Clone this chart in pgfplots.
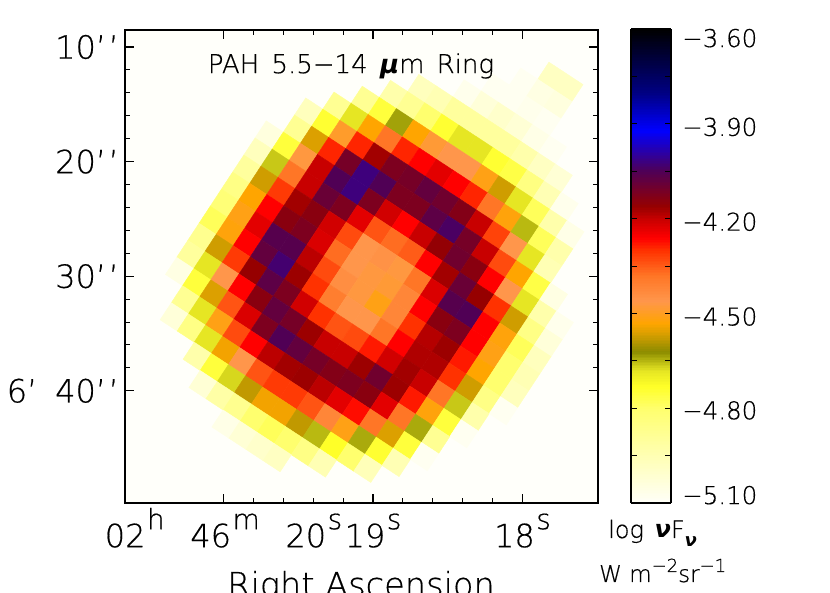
\documentclass[border=0pt]{standalone}
\usepackage{pgfplots}
\pgfplotsset{compat=1.18}
\usepackage{fontspec}
\setmainfont{DejaVu Sans ExtraLight}[FakeBold=0.5]
\newfontfamily\gr{DejaVu Sans}
\definecolor{bgc}{RGB}{255,255,250}
\newcommand\fs[1]{\fontsize{#1}{#1}\selectfont}
\newcommand\up[1]{\kern1.5pt\raisebox{18pt}{\fs{28}#1}}
\newcommand\pr{\char39\kern2.5pt\char39}
\newcommand\cb[2]{\smash{\raisebox{#1}{#2}}}
\pgfplotsset{colormap={idl}{
rgb255(0pt)=(255,255,250); rgb255(30pt)=(255,255,110); rgb255(37pt)=(255,255,40);
rgb255(42pt)=(230,230,35); rgb255(48pt)=(140,140,0); rgb255(54pt)=(220,160,0);
rgb255(57pt)=(255,165,0); rgb255(64pt)=(255,150,75); rgb255(72pt)=(255,118,38);
rgb255(80pt)=(255,50,0); rgb255(84pt)=(255,0,0); rgb255(90pt)=(200,0,0);
rgb255(94pt)=(150,0,0); rgb255(105pt)=(80,0,85); rgb255(118pt)=(0,0,255);
rgb255(130pt)=(0,0,130); rgb255(150pt)=(0,0,0)}}
\begin{document}
\begin{tikzpicture}
\useasboundingbox (0pt,0pt) rectangle (830pt,593pt);
\clip (0pt,0pt) rectangle (830pt,593pt);
\begin{axis}[
  at={(125pt,90pt)}, anchor=south west, scale only axis, width=473pt, height=473pt,
  clip=true,
  x dir=reverse, y dir=reverse,
  xmin=17.495, xmax=20.659, ymin=8.517, ymax=49.79,
  axis background/.style={fill=bgc},
  axis line style={line width=1.3pt},
  tick align=inside, xtick pos=both, ytick pos=both,
  major tick length=9pt, minor tick length=5pt,
  every major tick/.style={line width=1.2pt,black},
  every minor tick/.style={line width=1pt,black},
  xtick={18,19,20}, ytick={10,20,30,40},
  xticklabels={18\up{s},19\up{s},02\up{h}\kern 0.8em 46\up{m}\kern 0.8em 20\up{s}},
  yticklabels={10\pr,20\pr,30\pr,6\char39\kern 0.56em 40\pr},
  minor x tick num=4, minor y tick num=4,
  tick label style={font=\fs{32}},
  xticklabel style={text height=40pt,text depth=0pt,inner sep=0pt,yshift=-4pt},
  yticklabel style={inner sep=0pt,xshift=-6pt},
  colormap name=idl,
  point meta min=-5.1, point meta max=-3.6,
  colorbar sampled,
  colorbar style={
    samples=301,
    at={(1.0698,1.002)}, anchor=north west,
    scale only axis, width=40pt, height=474pt,
    x dir=normal, y dir=normal,
    axis line style={line width=1.3pt},
    tick align=inside, ytick pos=both, yticklabel pos=right,
    major tick length=6pt,
    every major tick/.style={line width=1pt,black},
    ytick={-5.1,-4.95,-4.8,-4.65,-4.5,-4.35,-4.2,-4.05,-3.9,-3.75,-3.6},
    yticklabels={\cb{-1pt}{−5.10},,\cb{-11pt}{−4.80},,\cb{-12pt}{−4.50},,\cb{-12pt}{−4.20},,\cb{-12pt}{−3.90},,\cb{-18pt}{−3.60}},
    yticklabel style={font=\fs{24.5},inner sep=0pt,xshift=11pt},
  },
]
\addplot[scatter, only marks, mark=square*, scatter src=explicit, mark size=10.2pt,
  scatter/use mapped color={draw=mapped color,fill=mapped color},
  mark options={rotate=-33.3, line width=0.4pt}]
  table[row sep=\\, meta=v,
    x expr={20-(399.3+17.07*\thisrow{a}-11.2*\thisrow{b}-223.5)/149.5},
    y expr={10+(122.7+11.2*\thisrow{a}+17.07*\thisrow{b}-47)/11.46}]{
a b v\\
5 -6 -4.98\\ 6 -6 -4.98\\
4 -5 -5.08\\ 5 -5 -5.05\\ 6 -5 -5.04\\
3 -4 -5.08\\ 4 -4 -5.08\\ 5 -4 -5.07\\ 6 -4 -5.08\\
2 -3 -5.07\\ 3 -3 -5.03\\ 4 -3 -5.0\\ 5 -3 -5.02\\ 6 -3 -5.06\\ 7 -3 -5.08\\
0 -2 -4.97\\ 1 -2 -4.95\\ 2 -2 -4.9\\ 3 -2 -4.9\\ 4 -2 -4.9\\ 5 -2 -4.9\\ 6 -2 -4.93\\ 7 -2 -4.98\\ 8 -2 -5.02\\
-1 -1 -4.93\\ 0 -1 -4.88\\ 1 -1 -4.8\\ 2 -1 -4.74\\ 3 -1 -4.68\\ 4 -1 -4.68\\ 5 -1 -4.74\\ 6 -1 -4.76\\ 7 -1 -4.84\\ 8 -1 -4.95\\ 9 -1 -5.07\\
-2 0 -4.88\\ -1 0 -4.75\\ 0 0 -4.635\\ 1 0 -4.53\\ 2 0 -4.48\\ 3 0 -4.46\\ 4 0 -4.46\\ 5 0 -4.51\\ 6 0 -4.57\\ 7 0 -4.68\\ 8 0 -4.78\\ 9 0 -4.93\\ 10 0 -5.06\\
-3 1 -4.88\\ -2 1 -4.68\\ -1 1 -4.53\\ 0 1 -4.38\\ 1 1 -4.29\\ 2 1 -4.26\\ 3 1 -4.23\\ 4 1 -4.26\\ 5 1 -4.29\\ 6 1 -4.38\\ 7 1 -4.52\\ 8 1 -4.65\\ 9 1 -4.78\\ 10 1 -4.93\\
-4 2 -4.97\\ -3 2 -4.74\\ -2 2 -4.49\\ -1 2 -4.29\\ 0 2 -4.17\\ 1 2 -4.12\\ 2 2 -4.11\\ 3 2 -4.08\\ 4 2 -4.1\\ 5 2 -4.13\\ 6 2 -4.2\\ 7 2 -4.32\\ 8 2 -4.46\\ 9 2 -4.68\\ 10 2 -4.95\\
-4 3 -4.88\\ -3 3 -4.56\\ -2 3 -4.29\\ -1 3 -4.11\\ 0 3 -4.02\\ 1 3 -4.05\\ 2 3 -4.12\\ 3 3 -4.12\\ 4 3 -4.07\\ 5 3 -4.04\\ 6 3 -4.11\\ 7 3 -4.2\\ 8 3 -4.33\\ 9 3 -4.53\\ 10 3 -4.76\\ 11 3 -5.05\\
-5 4 -5.04\\ -4 4 -4.75\\ -3 4 -4.47\\ -2 4 -4.2\\ -1 4 -4.05\\ 0 4 -4.02\\ 1 4 -4.12\\ 2 4 -4.21\\ 3 4 -4.26\\ 4 4 -4.2\\ 5 4 -4.155\\ 6 4 -4.1\\ 7 4 -4.14\\ 8 4 -4.26\\ 9 4 -4.46\\ 10 4 -4.68\\ 11 4 -4.93\\ 12 4 -5.07\\
-5 5 -4.97\\ -4 5 -4.66\\ -3 5 -4.38\\ -2 5 -4.2\\ -1 5 -4.09\\ 0 5 -4.12\\ 1 5 -4.23\\ 2 5 -4.34\\ 3 5 -4.37\\ 4 5 -4.35\\ 5 5 -4.26\\ 6 5 -4.17\\ 7 5 -4.09\\ 8 5 -4.16\\ 9 5 -4.3\\ 10 5 -4.57\\ 11 5 -4.85\\ 12 5 -5.03\\
-5 6 -4.9\\ -4 6 -4.57\\ -3 6 -4.31\\ -2 6 -4.17\\ -1 6 -4.14\\ 0 6 -4.21\\ 1 6 -4.33\\ 2 6 -4.46\\ 3 6 -4.45\\ 4 6 -4.47\\ 5 6 -4.38\\ 6 6 -4.22\\ 7 6 -4.06\\ 8 6 -4.05\\ 9 6 -4.26\\ 10 6 -4.52\\ 11 6 -4.78\\ 12 6 -4.97\\
-5 7 -4.85\\ -4 7 -4.53\\ -3 7 -4.26\\ -2 7 -4.14\\ -1 7 -4.12\\ 0 7 -4.22\\ 1 7 -4.37\\ 2 7 -4.46\\ 3 7 -4.47\\ 4 7 -4.48\\ 5 7 -4.42\\ 6 7 -4.26\\ 7 7 -4.14\\ 8 7 -4.12\\ 9 7 -4.26\\ 10 7 -4.51\\ 11 7 -4.8\\ 12 7 -4.95\\
-5 8 -4.82\\ -4 8 -4.51\\ -3 8 -4.23\\ -2 8 -4.06\\ -1 8 -4.06\\ 0 8 -4.19\\ 1 8 -4.33\\ 2 8 -4.44\\ 3 8 -4.47\\ 4 8 -4.51\\ 5 8 -4.42\\ 6 8 -4.3\\ 7 8 -4.185\\ 8 8 -4.165\\ 9 8 -4.28\\ 10 8 -4.53\\ 11 8 -4.8\\ 12 8 -4.97\\
-5 9 -4.78\\ -4 9 -4.52\\ -3 9 -4.26\\ -2 9 -4.08\\ -1 9 -4.03\\ 0 9 -4.165\\ 1 9 -4.3\\ 2 9 -4.4\\ 3 9 -4.46\\ 4 9 -4.46\\ 5 9 -4.38\\ 6 9 -4.26\\ 7 9 -4.18\\ 8 9 -4.18\\ 9 9 -4.3\\ 10 9 -4.57\\ 11 9 -4.85\\ 12 9 -5.08\\
-5 10 -4.87\\ -4 10 -4.57\\ -3 10 -4.31\\ -2 10 -4.16\\ -1 10 -4.07\\ 0 10 -4.12\\ 1 10 -4.21\\ 2 10 -4.3\\ 3 10 -4.34\\ 4 10 -4.33\\ 5 10 -4.28\\ 6 10 -4.21\\ 7 10 -4.17\\ 8 10 -4.2\\ 9 10 -4.38\\ 10 10 -4.66\\ 11 10 -4.93\\
-5 11 -4.9\\ -4 11 -4.68\\ -3 11 -4.46\\ -2 11 -4.26\\ -1 11 -4.14\\ 0 11 -4.08\\ 1 11 -4.11\\ 2 11 -4.165\\ 3 11 -4.2\\ 4 11 -4.2\\ 5 11 -4.165\\ 6 11 -4.1\\ 7 11 -4.165\\ 8 11 -4.28\\ 9 11 -4.52\\ 10 11 -4.75\\ 11 11 -5.08\\
-5 12 -5.05\\ -4 12 -4.75\\ -3 12 -4.56\\ -2 12 -4.34\\ -1 12 -4.22\\ 0 12 -4.12\\ 1 12 -4.05\\ 2 12 -4.08\\ 3 12 -4.11\\ 4 12 -4.13\\ 5 12 -4.12\\ 6 12 -4.14\\ 7 12 -4.23\\ 8 12 -4.38\\ 9 12 -4.64\\ 10 12 -4.88\\
-4 13 -4.88\\ -3 13 -4.68\\ -2 13 -4.51\\ -1 13 -4.33\\ 0 13 -4.26\\ 1 13 -4.19\\ 2 13 -4.17\\ 3 13 -4.165\\ 4 13 -4.19\\ 5 13 -4.23\\ 6 13 -4.27\\ 7 13 -4.38\\ 8 13 -4.56\\ 9 13 -4.75\\ 10 13 -5.08\\
-4 14 -5.03\\ -3 14 -4.85\\ -2 14 -4.68\\ -1 14 -4.54\\ 0 14 -4.46\\ 1 14 -4.34\\ 2 14 -4.31\\ 3 14 -4.31\\ 4 14 -4.34\\ 5 14 -4.42\\ 6 14 -4.51\\ 7 14 -4.64\\ 8 14 -4.74\\ 9 14 -4.95\\
-2 15 -4.93\\ -1 15 -4.75\\ 0 15 -4.67\\ 1 15 -4.58\\ 2 15 -4.54\\ 3 15 -4.54\\ 4 15 -4.58\\ 5 15 -4.65\\ 6 15 -4.73\\ 7 15 -4.8\\ 8 15 -4.96\\
-1 16 -5.02\\ 0 16 -4.92\\ 1 16 -4.87\\ 2 16 -4.8\\ 3 16 -4.78\\ 4 16 -4.8\\ 5 16 -4.85\\ 6 16 -4.95\\
1 17 -5.06\\ 2 17 -5.02\\ 3 17 -5.0\\ 4 17 -4.98\\
};
\end{axis}
\node[anchor=center] at (351pt,527pt) {\fs{26}PAH\kern4pt\ 5.5−14\kern4pt\ {\gr\bfseries\itshape μ}m\kern4pt\ Ring};
\node[anchor=base] at (361pt,-3.5pt) {\fs{33.6}Right Ascension};
\node[anchor=base west,inner sep=0pt] at (608pt,55pt) {\fs{24}log\kern3pt\ {\gr\bfseries\itshape ν}F\raisebox{-9pt}{\fs{18}\gr\bfseries\itshape ν}};
\node[anchor=base west,inner sep=0pt] at (599pt,11pt) {\fs{23}W m\raisebox{10pt}{\fs{18}−2}sr\raisebox{10pt}{\fs{18}−1}};
\end{tikzpicture}
\end{document}
